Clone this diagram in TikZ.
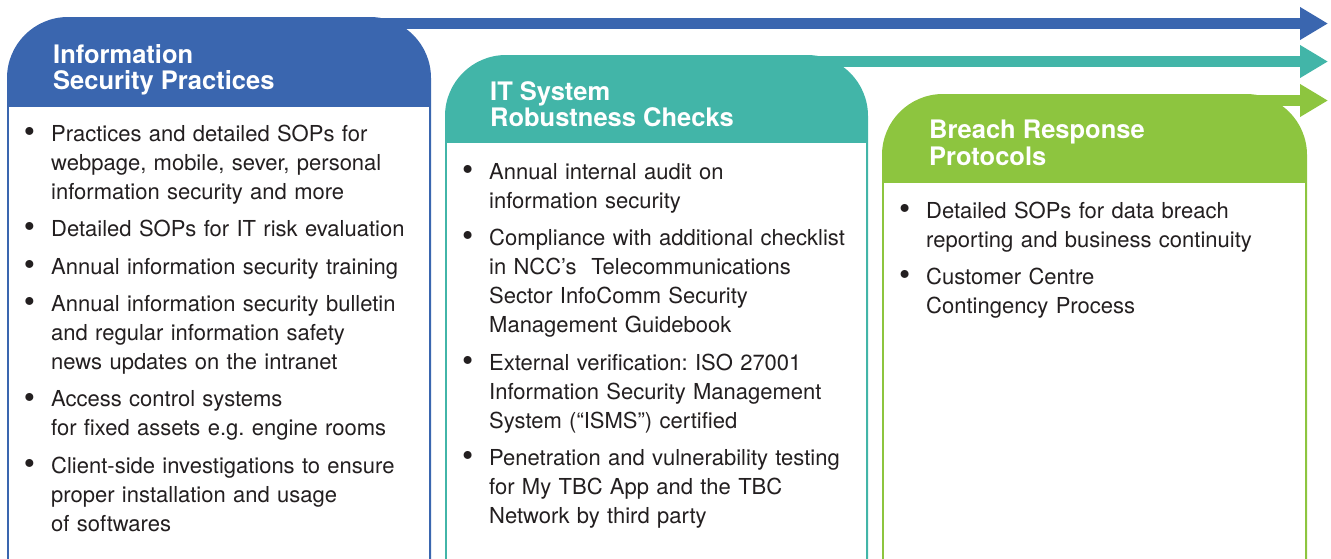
\documentclass[tikz,border=0pt]{standalone}
\usepackage{fontspec}
\setmainfont{TeX Gyre Heros}
\usepackage{enumitem}
\usetikzlibrary{arrows.meta,positioning}

\definecolor{infoblue}{RGB}{58,102,175}
\definecolor{itteal}{RGB}{66,181,168}
\definecolor{breachgreen}{RGB}{141,197,63}
\definecolor{bodygrey}{RGB}{35,31,32}

\newcommand{\listdot}{\raisebox{-0.12ex}{\fontsize{32}{32}\selectfont\textbullet}}
\setlist[itemize]{label=\listdot, leftmargin=43pt, labelsep=16pt, itemsep=8.4pt, parsep=0pt, topsep=0pt, partopsep=0pt}
\frenchspacing

\begin{document}
\begin{tikzpicture}
				[
					x=1pt, y=-1pt,
					panel/.style={line width=2pt, rounded corners=60pt},
					headtext/.style={text=white, font=\fontsize{25.5}{26.5}\selectfont\bfseries, align=left, anchor=north west, inner sep=0pt},
					bodytext/.style={text=bodygrey, font=\fontsize{22}{29}\selectfont, text width=#1, anchor=north west, inner sep=0pt},
					timeline/.style={line width=11pt, -{Triangle[length=28pt,width=31pt]}},
				]

				\useasboundingbox (0,0) rectangle (1331,558);
				\clip (0,0) rectangle (1331,558);

				% arrows running off to the right
				\coordinate (infostart) at (300,23.5);
				\coordinate (infoend) at (1328,23.5);
				\coordinate (itstart) at (740,61.5);
				\coordinate (itend) at (1328,61.5);
				\coordinate (breachstart) at (1180,100.5);
				\coordinate (breachend) at (1328,100.5);
				\draw[timeline, infoblue] (infostart) -- (infoend);
				\draw[timeline, itteal] (itstart) -- (itend);
				\draw[timeline, breachgreen] (breachstart) -- (breachend);

				% the three panels: coloured head, white body
				\filldraw[panel, draw=infoblue, fill=infoblue] (8,700) |- (430,18) -- (430,700) -- cycle;
				\fill[white] (9,107) rectangle (429,700);
				\filldraw[panel, draw=itteal, fill=itteal] (446,700) |- (867,56) -- (867,700) -- cycle;
				\fill[white] (447,143) rectangle (866,700);
				\filldraw[panel, draw=breachgreen, fill=breachgreen] (883,700) |- (1306,95) -- (1306,700) -- cycle;
				\fill[white] (884,183) rectangle (1305,700);

				\node [headtext] (infotitle) at (53,44) {Information\\Security Practices};
				\node [headtext] (ittitle) at (490,81) {IT System\\Robustness Checks};
				\node [headtext] (breachtitle) at (929,120) {Breach Response\\Protocols};

				\node [bodytext=410pt] (infolist) at (8,112) {%
					\begin{itemize}
						\item Practices and detailed SOPs for\\webpage, mobile, sever, personal\\information security and more
						\item Detailed SOPs for IT risk evaluation
						\item Annual information security training
						\item Annual information security bulletin\\and regular information safety\\news updates on the intranet
						\item Access control systems\\for fixed assets e.g. engine rooms
						\item Client-side investigations to ensure\\proper installation and usage\\of softwares
					\end{itemize}};
				\node [bodytext=410pt] (itlist) at (446,150) {%
					\begin{itemize}
						\item Annual internal audit on\\information security
						\item Compliance with additional checklist\\in NCC’s\ \ Telecommunications\\Sector InfoComm Security\\Management Guidebook
						\item External verification: ISO 27001\\Information Security Management\\System (“ISMS”) certified
						\item Penetration and vulnerability testing\\for My TBC App and the TBC\\Network by third party
					\end{itemize}};
				\node [bodytext=410pt] (breachlist) at (883,189) {%
					\begin{itemize}
						\item Detailed SOPs for data breach\\reporting and business continuity
						\item Customer Centre\\Contingency Process
					\end{itemize}};

			\end{tikzpicture}
\end{document}
